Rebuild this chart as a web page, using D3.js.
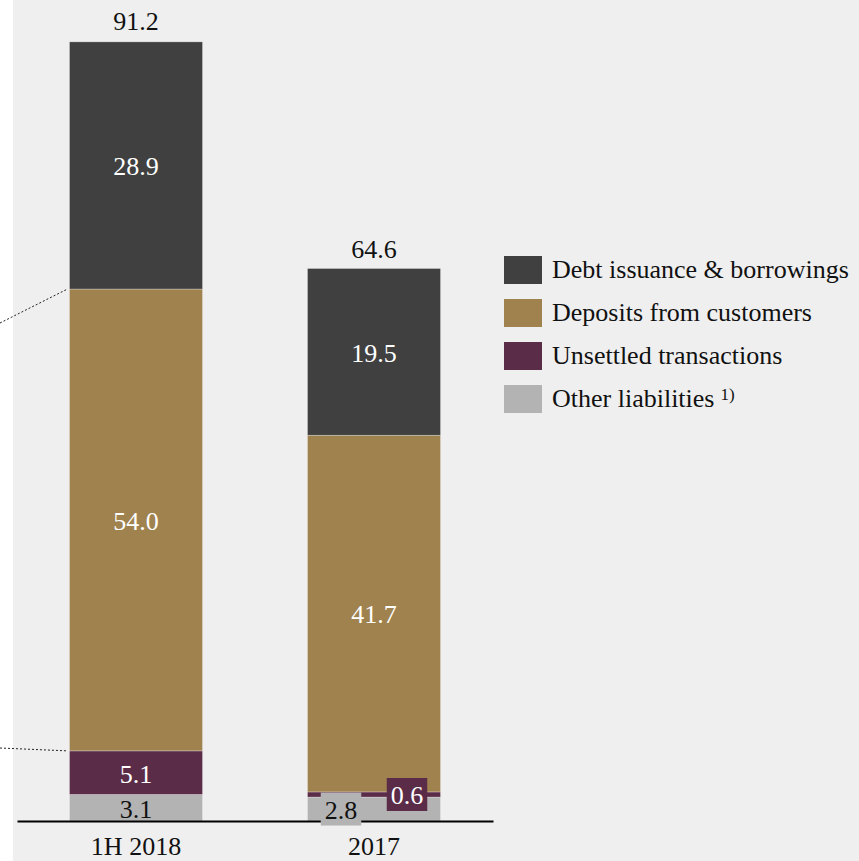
<!DOCTYPE html>
<html>
<head>
<meta charset="utf-8">
<script src="https://cdn.jsdelivr.net/npm/d3@7/dist/d3.min.js"></script>
<style>
  html, body { margin: 0; padding: 0; background: #ffffff; }
  svg { display: block; }
</style>
</head>
<body>
<svg id="chart" width="859" height="861"></svg>
<script>
// Liabilities by category (EUR bn)
const categories = ["1H 2018", "2017"];
const seriesNames = ["Other liabilities", "Unsettled transactions", "Deposits from customers", "Debt issuance & borrowings"];
const otherLiabilities = [3.1, 2.8];
const unsettledTransactions = [5.1, 0.6];
const depositsFromCustomers = [54.0, 41.7];
const debtIssuance = [28.9, 19.5];
const totals = [91.2, 64.6];

const seriesValues = [otherLiabilities, unsettledTransactions, depositsFromCustomers, debtIssuance];
const colors = ["#b3b3b3", "#5b2c48", "#a0824f", "#404040"];
const labelColors = ["#111111", "#ffffff", "#ffffff", "#ffffff"];

const FONT = "'Liberation Serif', 'Times New Roman', Times, serif";
const svg = d3.select("#chart").attr("font-family", FONT);
const W = 859, H = 861;
const fontSize = 26;

// panel background
svg.append("rect").attr("x", 13).attr("y", 0).attr("width", W - 13).attr("height", H).attr("fill", "#efefef");

const x = d3.scaleBand()
  .domain(categories)
  .range([17, 493])
  .paddingInner(0.441)
  .paddingOuter(0.2205);

const y = d3.scaleLinear()
  .domain([0, 91.2])
  .range([821, 41]);

// build stacked rows
const rows = categories.map((c, i) => {
  const r = { category: c };
  seriesNames.forEach((s, k) => { r[s] = seriesValues[k][i]; });
  return r;
});
const stack = d3.stack().keys(seriesNames)(rows);

// dotted connector lines at the left edge
const connectors = [
  { y0: 323, value: d3.sum(seriesValues.slice(0, 3), v => v[0]) },
  { y0: 748, value: d3.sum(seriesValues.slice(0, 2), v => v[0]) }
];
svg.append("g").selectAll("line").data(connectors).join("line")
  .attr("x1", 0).attr("y1", d => d.y0)
  .attr("x2", x(categories[0]) - 2).attr("y2", d => y(d.value))
  .attr("stroke", "#222").attr("stroke-width", 1)
  .attr("stroke-dasharray", "2,2");

// bars
const layers = svg.append("g").selectAll("g").data(stack).join("g")
  .attr("fill", (d, k) => colors[k]);
layers.selectAll("rect").data(d => d).join("rect")
  .attr("x", d => x(d.data.category))
  .attr("y", d => y(d[1]))
  .attr("width", x.bandwidth())
  .attr("height", d => y(d[0]) - y(d[1]))
  .attr("stroke", "rgba(255,255,255,0.35)")
  .attr("stroke-width", 0.8);

// axis
const axis = svg.append("g")
  .attr("transform", `translate(0,${y(0)})`)
  .call(d3.axisBottom(x).tickSize(0).tickPadding(16));
axis.attr("font-family", FONT);
axis.select(".domain").attr("stroke", "#000").attr("stroke-width", 2);
axis.selectAll(".tick text")
  .attr("font-family", FONT)
  .attr("font-size", fontSize)
  .attr("fill", "#111");

// segment labels; thin segments of the 2017 bar get boxed labels set aside
const sideOffsets = { "2017": { 0: -33, 1: 33 } };
const labelG = svg.append("g");
stack.forEach((layer, k) => {
  layer.forEach(d => {
    const cat = d.data.category;
    const value = d.data[layer.key];
    const cx = x(cat) + x.bandwidth() / 2;
    const cy = (y(d[0]) + y(d[1])) / 2;
    const off = sideOffsets[cat] && sideOffsets[cat][k];
    const label = value.toFixed(1);
    if (off !== undefined) {
      const tx = cx + off;
      const t = labelG.append("text")
        .attr("x", tx).attr("y", cy).attr("dy", "0.38em")
        .attr("text-anchor", "middle")
        .attr("font-size", fontSize)
        .attr("fill", labelColors[k])
        .text(label);
      const bb = t.node().getBBox();
      labelG.insert("rect", () => t.node())
        .attr("x", bb.x - 4).attr("y", cy - 16.5)
        .attr("width", bb.width + 8).attr("height", 33)
        .attr("fill", colors[k]);
    } else {
      labelG.append("text")
        .attr("x", cx).attr("y", cy).attr("dy", "0.38em")
        .attr("text-anchor", "middle")
        .attr("font-size", fontSize)
        .attr("fill", labelColors[k])
        .text(label);
    }
  });
});

// totals above the bars
svg.append("g").selectAll("text").data(categories).join("text")
  .attr("x", c => x(c) + x.bandwidth() / 2)
  .attr("y", (c, i) => y(totals[i]) - 11)
  .attr("text-anchor", "middle")
  .attr("font-size", fontSize)
  .attr("fill", "#111")
  .text((c, i) => totals[i].toFixed(1));

// legend (top series first)
const legendOrder = [3, 2, 1, 0];
const legend = svg.append("g").attr("transform", "translate(504,256)");
const items = legend.selectAll("g").data(legendOrder).join("g")
  .attr("transform", (k, i) => `translate(0,${i * 43})`);
items.append("rect")
  .attr("width", 38).attr("height", 28)
  .attr("fill", k => colors[k]);
const lt = items.append("text")
  .attr("x", 48).attr("y", 22)
  .attr("font-size", fontSize)
  .attr("fill", "#111")
  .text(k => seriesNames[k]);
lt.filter(k => k === 0).append("tspan")
  .attr("font-size", 17).attr("dx", 6).attr("dy", -7)
  .text("1)");
</script>
</body>
</html>
